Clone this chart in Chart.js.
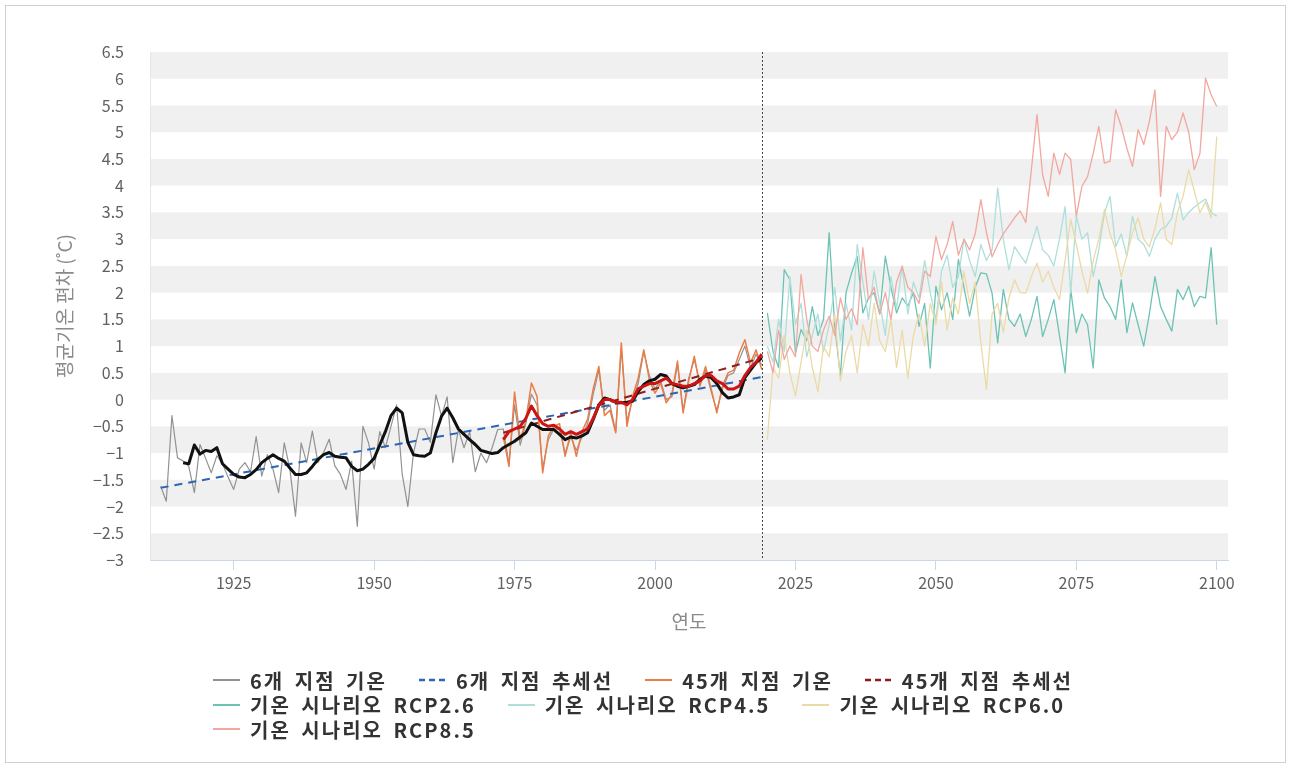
<!DOCTYPE html>
<html><head><meta charset="utf-8">
<script src="https://cdn.jsdelivr.net/npm/chart.js@4.4.1/dist/chart.umd.min.js"></script>
<style>
html,body{margin:0;padding:0;background:#fff;}
#wrap{position:relative;width:1293px;height:769px;overflow:hidden;background:#fff;}
#frame{position:absolute;left:5px;top:5px;width:1281px;height:758px;border:1px solid #d0d0d0;box-sizing:border-box;pointer-events:none;}
#c{position:absolute;left:0;top:0;}
#legend{position:absolute;left:213px;top:668px;width:940px;display:flex;flex-wrap:wrap;font-family:"Noto Sans CJK KR","Noto Sans",sans-serif;font-weight:700;font-size:20px;color:#333;letter-spacing:2px;word-spacing:4px;}
#legend .it{display:flex;align-items:center;height:24.5px;margin-right:32px;white-space:nowrap;}
#legend svg{width:27px;height:10px;margin-right:10px;flex:none;}
</style>
</head><body>
<div id="wrap">
<canvas id="c" width="1293" height="769"></canvas>
<div id="frame"></div>
<div id="legend"></div>
</div>
<script>
function yearsFrom(a,b){const r=[];for(let y=a;y<=b;y++)r.push(y);return r;}

// ---- categories (years) ----
const obs6Years  = yearsFrom(1912, 2019);
const smooth6Years = yearsFrom(1916, 2019);
const obs45Years = yearsFrom(1973, 2019);
const rcpYears   = yearsFrom(2020, 2100);
const trend6Years  = [1912, 2019];
const trend45Years = [1973, 2019];
const dividerYear = 2019;

// ---- tick labels ----
const xTickYears = [1925, 1950, 1975, 2000, 2025, 2050, 2075, 2100];

// ---- series values (°C anomaly) ----
const obs6Temp = [
 -1.62,-1.90,-0.30,-1.09,-1.15,-1.25,-1.74,-0.84,-1.10,-1.37,
 -1.05,-1.20,-1.45,-1.68,-1.30,-1.18,-1.35,-0.69,-1.43,-1.03,
 -1.30,-1.74,-0.81,-1.30,-2.18,-0.81,-1.18,-0.59,-1.18,-0.99,
 -0.74,-1.24,-1.40,-1.68,-1.15,-2.37,-0.50,-0.81,-1.30,-0.60,
 -0.90,-0.50,-0.10,-1.40,-2.00,-1.00,-0.55,-0.55,-0.80, 0.09,
 -0.31, 0.05,-1.18,-0.56,-0.90,-0.60,-1.35,-1.00,-1.18,-0.90,
 -0.56,
 -0.55,-1.20,-0.10,-0.85,-0.45, 0.10,-0.10,-1.30,-0.75,-0.55,
 -0.55,-1.00,-0.70,-0.95,-0.70,-0.45, 0.10, 0.55,-0.20,-0.10,
 -0.60, 0.95,-0.40, 0.00, 0.30, 0.90, 0.45, 0.20, 0.35, 0.00,
  0.05, 0.65,-0.20, 0.40, 0.75, 0.30, 0.55, 0.15,-0.20, 0.20,
  0.45, 0.50, 0.75, 1.00, 0.60, 0.85, 0.65
];
const smooth6Temp = [
 -1.18,-1.20,-0.85,-1.02,-0.95,-0.97,-0.90,-1.20,-1.30,-1.40,
 -1.45,-1.46,-1.40,-1.31,-1.18,-1.10,-1.03,-1.10,-1.15,-1.28,
 -1.40,-1.40,-1.37,-1.25,-1.12,-1.03,-0.99,-1.06,-1.08,-1.09,
 -1.25,-1.33,-1.30,-1.21,-1.10,-0.85,-0.60,-0.30,-0.16,-0.25,
 -0.80,-1.03,-1.05,-1.06,-1.00,-0.62,-0.31,-0.16,-0.34,-0.55,
 -0.65,-0.75,-0.84,-0.95,-0.98,-1.01,-0.99,-0.90,-0.84,-0.78,
 -0.70,-0.62,-0.44,-0.50,-0.56,-0.56,-0.56,-0.65,-0.75,-0.70,
 -0.72,-0.68,-0.62,-0.37,-0.10, 0.03, 0.00,-0.05,-0.06,-0.05,
 -0.03, 0.15, 0.28, 0.35, 0.38, 0.47, 0.44, 0.30, 0.25, 0.22,
  0.25, 0.28, 0.38, 0.44, 0.41, 0.30, 0.13, 0.03, 0.05, 0.09,
  0.41, 0.55, 0.69, 0.78
];
const obs45Temp = [
 -0.70,-1.25, 0.14,-0.75,-0.40, 0.31, 0.06,-1.37,-0.68,-0.50,
 -0.45,-1.06,-0.62,-1.06,-0.60,-0.37, 0.20, 0.62,-0.30,-0.20,
 -0.62, 1.06,-0.50, 0.06, 0.40, 0.93, 0.37, 0.12, 0.31,-0.06,
  0.10, 0.72,-0.25, 0.35, 0.81, 0.25, 0.62, 0.20,-0.25, 0.25,
  0.50, 0.55, 0.87, 1.12, 0.69, 0.93, 0.56
];
const smooth45Temp = [
 -0.75,-0.60,-0.55,-0.50,-0.35,-0.12,-0.30,-0.45,-0.50,-0.48,
 -0.55,-0.65,-0.60,-0.65,-0.60,-0.55,-0.35,-0.10, 0.00, 0.00,
 -0.05,-0.05,-0.10, 0.00, 0.20, 0.25, 0.30, 0.30, 0.35, 0.40,
  0.30, 0.28, 0.25, 0.25, 0.30, 0.35, 0.45, 0.45, 0.35, 0.30,
  0.20, 0.20, 0.25, 0.45, 0.60, 0.70, 0.85
];
const trend6Temp  = [-1.65, 0.42];
const trend45Temp = [-0.62, 0.78];

const rcp26 = [
 1.62,0.90,0.60,2.43,2.24,0.87,1.31,1.10,1.74,1.20,
 1.50,3.12,1.37,0.44,2.00,2.37,2.68,1.62,1.90,2.00,
 1.60,2.68,2.10,1.62,1.90,1.75,2.00,1.37,1.80,0.59,
 2.12,1.68,2.00,1.50,2.62,2.10,1.56,2.10,2.37,2.35,
 1.99,1.06,2.06,1.50,1.37,1.60,1.18,1.50,1.93,1.18,
 1.50,1.87,1.20,0.50,2.06,1.25,1.60,1.40,0.59,2.24,
 1.90,1.74,1.50,2.24,1.25,1.81,1.40,1.00,1.60,2.30,
 1.74,1.50,1.28,2.06,1.87,2.12,1.74,1.93,1.90,2.84,
 1.40
];
const rcp45 = [
 1.00,0.70,1.50,0.90,2.30,1.40,1.80,0.80,1.20,1.60,
 0.90,1.40,2.10,1.10,1.80,1.30,2.90,2.20,1.50,2.40,
 1.80,1.20,2.30,1.70,2.50,1.60,2.20,1.90,2.60,2.00,
 1.50,2.40,2.70,2.10,2.30,3.00,2.60,2.30,2.90,2.60,
 2.80,3.96,3.00,2.43,2.86,2.70,2.55,2.90,3.24,2.80,
 2.70,2.50,3.00,3.61,1.99,3.43,3.00,3.12,2.30,2.80,
 3.49,3.80,2.86,3.10,2.68,3.43,3.00,2.90,2.68,3.00,
 3.18,3.24,3.40,3.86,3.36,3.50,3.60,3.68,3.75,3.50,
 3.43
];
const rcp60 = [
 -0.75,0.60,0.40,1.20,0.50,0.07,0.70,1.30,0.60,0.15,
 1.00,0.80,1.60,0.35,0.90,1.20,0.50,1.40,1.00,1.80,
 1.10,0.90,1.50,0.60,1.30,0.40,1.20,1.60,1.00,1.80,
 1.40,2.20,1.30,1.90,1.60,2.40,1.80,2.20,1.06,0.19,
 1.60,1.80,1.25,1.90,2.24,2.00,1.99,2.30,2.55,2.20,
 2.40,2.10,1.87,2.60,3.37,2.90,2.40,1.99,2.60,3.00,
 3.55,3.10,2.80,2.30,2.70,3.12,3.40,3.00,2.86,3.20,
 3.68,3.00,2.90,3.50,3.80,4.30,3.90,3.49,3.70,3.40,
 4.92
];
const rcp85 = [
 0.90,0.50,1.30,0.75,1.00,0.80,2.34,1.50,1.00,0.90,
 1.30,1.56,1.20,1.90,1.50,1.70,1.40,2.84,1.87,2.10,
 1.60,2.00,1.50,2.20,2.49,2.10,2.00,1.80,2.40,2.30,
 3.05,2.62,2.90,3.33,2.70,3.00,2.80,3.10,3.74,3.12,
 2.67,2.90,3.10,3.25,3.40,3.53,3.31,4.30,5.33,4.20,
 3.80,4.61,4.21,4.61,4.49,3.43,3.99,4.17,4.60,5.11,
 4.42,4.46,5.42,5.11,4.70,4.36,5.05,4.77,5.20,5.79,
 3.80,5.11,4.86,5.00,5.36,5.00,4.30,4.60,6.01,5.70,
 5.48
];

// ---- series names ----
const names = ['6개 지점 기온','6개 지점 추세선','45개 지점 기온','45개 지점 추세선',
  '기온 시나리오 RCP2.6','기온 시나리오 RCP4.5','기온 시나리오 RCP6.0','기온 시나리오 RCP8.5'];

function pts(xs, vs){ return vs.map((v,i)=>({x:xs[i], y:v})); }

const FONT = '"Noto Sans CJK KR", "Noto Sans", sans-serif';

const datasets = [
  {label:names[0], data:pts(obs6Years,obs6Temp), borderColor:'#929292', borderWidth:1.2, order:6, inLegend:true},
  {label:names[1], data:pts(trend6Years,trend6Temp), borderColor:'#2b66b3', borderWidth:2, borderDash:[8,6], order:3, inLegend:true},
  {label:names[2], data:pts(obs45Years,obs45Temp), borderColor:'#ec7c46', borderWidth:1.5, order:5, inLegend:true},
  {label:names[3], data:pts(trend45Years,trend45Temp), borderColor:'#8b1f1f', borderWidth:2, borderDash:[8,6], order:2, inLegend:true},
  {label:names[4], data:pts(rcpYears,rcp26), borderColor:'#6cc3b5', borderWidth:1.3, order:10, inLegend:true},
  {label:names[5], data:pts(rcpYears,rcp45), borderColor:'#aedfda', borderWidth:1.3, order:9, inLegend:true},
  {label:names[6], data:pts(rcpYears,rcp60), borderColor:'#ecdaa6', borderWidth:1.3, order:8, inLegend:true},
  {label:names[7], data:pts(rcpYears,rcp85), borderColor:'#f2a79f', borderWidth:1.3, order:7, inLegend:true},
  {label:'6개 지점 이동평균', data:pts(smooth6Years,smooth6Temp), borderColor:'#111111', borderWidth:3, order:1, inLegend:false},
  {label:'45개 지점 이동평균', data:pts(obs45Years,smooth45Temp), borderColor:'#cc1414', borderWidth:3, order:0, inLegend:false}
];
datasets.forEach(d=>{ d.pointRadius=0; d.tension=0; d.fill=false; d.borderJoinStyle='round'; });

const bandPlugin = {
  id:'bands',
  beforeDraw(chart){
    const {ctx, chartArea:a, scales:{y}} = chart;
    ctx.save();
    ctx.fillStyle = '#f0f0f0';
    for (let v = Math.ceil(y.min); v < y.max; v += 1) {
      const t = y.getPixelForValue(Math.min(v + 0.5, y.max));
      const b = y.getPixelForValue(v);
      ctx.fillRect(a.left, t, a.right - a.left, b - t);
    }
    ctx.restore();
  }
};
const dividerPlugin = {
  id:'divider',
  afterDatasetsDraw(chart){
    const {ctx, chartArea:a, scales:{x}} = chart;
    const px = Math.round(x.getPixelForValue(dividerYear)) + 0.5;
    ctx.save();
    ctx.strokeStyle = '#444';
    ctx.lineWidth = 1;
    ctx.setLineDash([2,2]);
    ctx.beginPath(); ctx.moveTo(px, a.top); ctx.lineTo(px, a.bottom); ctx.stroke();
    ctx.restore();
  }
};
const htmlLegend = {
  id:'htmlLegend',
  afterUpdate(chart){
    const box = document.getElementById('legend');
    box.innerHTML = '';
    chart.data.datasets.forEach(ds=>{
      if (!ds.inLegend) return;
      const it = document.createElement('div'); it.className='it';
      const dash = ds.borderDash ? `stroke-dasharray="6 4"` : '';
      const w = ds.borderDash ? 2.5 : 2;
      it.innerHTML = `<svg viewBox="0 0 27 10"><line x1="0" y1="5" x2="27" y2="5" stroke="${ds.borderColor}" stroke-width="${w}" ${dash}/></svg><span>${ds.label}</span>`;
      box.appendChild(it);
    });
  }
};

new Chart(document.getElementById('c'), {
  type:'line',
  data:{datasets},
  options:{
    responsive:false, animation:false, devicePixelRatio:1,
    layout:{padding:{left:50, top:52, right:65, bottom:133}},
    plugins:{legend:{display:false}, tooltip:{enabled:false}},
    scales:{
      x:{
        type:'linear', min:1910.1, max:2102,
        afterBuildTicks:s=>{ s.ticks = xTickYears.map(v=>({value:v})); },
        afterFit:s=>{ s.height = 76; },
        ticks:{color:'#606060', font:{family:FONT, size:16}, padding:3, maxRotation:0, autoSkip:false, callback:v=>String(v)},
        grid:{display:true, drawOnChartArea:false, drawTicks:true, tickLength:10, color:'#ccd6eb'},
        border:{display:true, color:'#ccd6eb'},
        title:{display:true, text:'연도', color:'#8a8a8a', font:{family:FONT, size:19}, padding:{top:4,bottom:3}}
      },
      y:{
        min:-3, max:6.5,
        afterFit:s=>{ s.width = 100; },
        ticks:{stepSize:0.5, color:'#606060', font:{family:FONT, size:16}, padding:18,
          callback:v=>{ const s = String(Math.round(v*10)/10); return s.replace('-', '\u2212'); }},
        grid:{display:false},
        border:{display:true, color:'#e3e6ee'},
        title:{display:true, text:'평균기온 편차 (˚C)', color:'#8a8a8a', font:{family:FONT, size:19}, padding:{top:3,bottom:4}}
      }
    }
  },
  plugins:[bandPlugin, dividerPlugin, htmlLegend]
});
</script>
</body></html>
